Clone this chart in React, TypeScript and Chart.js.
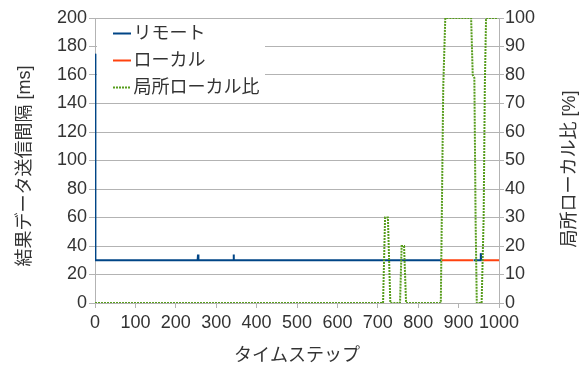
import React, { useEffect, useRef } from "react";
import { Chart, registerables } from "chart.js";

Chart.register(...registerables);

const FONT = "'Liberation Sans', 'Noto Sans CJK JP', sans-serif";

const xTitle = "タイムステップ";
const yLeftTitle = "結果データ送信間隔 [ms]";
const yRightTitle = "局所ローカル比 [%]";

const legendLabels = ["リモート", "ローカル", "局所ローカル比"];

const remoteSteps = [0, 1, 254, 255, 256, 342, 343, 344, 857, 858, 937, 954, 955, 956, 957];
const remoteMs: (number | null)[] = [175, 30, 30, 34, 30, 30, 34, 30, 30, null, 30, 30, 35, 30, 30];

const localSteps = [858, 936, 937, 958, 1000];
const localMs: (number | null)[] = [30, 30, null, 30, 30];

const ratioSteps = [0, 713, 718, 725, 731, 755, 759, 765, 770, 856, 862, 867, 931, 935, 939, 942, 945, 957, 962, 965, 968, 998];
const ratioPct = [0, 0, 30, 30, 0, 0, 20, 20, 0, 0, 76, 100, 100, 80, 79, 30, 0, 0, 30, 77, 100, 100];

const COLORS = ["#004586", "#ff420e", "#579d1c"];

function pts(xs: number[], ys: (number | null)[]) {
  return xs.map((x, i) => ({ x, y: ys[i] }));
}

const overlayPlugin = {
  id: "overlay",
  afterDraw(chart: any) {
    const ctx = chart.ctx as CanvasRenderingContext2D;
    ctx.save();
    // legend box
    ctx.fillStyle = "#ffffff";
    ctx.fillRect(97, 20, 168, 79);
    const ys = [33.5, 60.5, 87.5];
    legendLabels.forEach((label, i) => {
      ctx.beginPath();
      ctx.strokeStyle = COLORS[i];
      ctx.lineWidth = 2;
      ctx.setLineDash(i === 2 ? [2, 1] : []);
      ctx.moveTo(113, ys[i]);
      ctx.lineTo(131, ys[i]);
      ctx.stroke();
      ctx.setLineDash([]);
      ctx.fillStyle = "#333333";
      ctx.font = `18px ${FONT}`;
      ctx.textAlign = "left";
      ctx.textBaseline = "middle";
      ctx.fillText(label, 133.5, ys[i] + 1);
    });
    // titles
    ctx.fillStyle = "#333333";
    ctx.font = `18px ${FONT}`;
    ctx.textAlign = "center";
    ctx.textBaseline = "middle";
    ctx.fillText(xTitle, 297, 356);
    ctx.save();
    ctx.translate(25, 166);
    ctx.rotate(-Math.PI / 2);
    ctx.fillText(yLeftTitle, 0, 0);
    ctx.restore();
    ctx.save();
    ctx.translate(570, 169);
    ctx.rotate(-Math.PI / 2);
    ctx.fillText(yRightTitle, 0, 0);
    ctx.restore();
    ctx.restore();
  },
};

export default function App() {
  const ref = useRef<HTMLCanvasElement | null>(null);
  useEffect(() => {
    if (!ref.current) return;
    const tickFont = { family: FONT, size: 18 };
    const plain = (v: any) => String(v);
    const chart = new Chart(ref.current, {
      type: "line",
      data: {
        datasets: [
          {
            label: legendLabels[0],
            data: pts(remoteSteps, remoteMs),
            borderColor: COLORS[0],
            backgroundColor: COLORS[0],
            borderWidth: 2,
            pointRadius: 0,
            tension: 0,
            yAxisID: "y",
            order: 2,
          },
          {
            label: legendLabels[1],
            data: pts(localSteps, localMs),
            borderColor: COLORS[1],
            backgroundColor: COLORS[1],
            borderWidth: 2,
            pointRadius: 0,
            tension: 0,
            yAxisID: "y",
            order: 1,
          },
          {
            label: legendLabels[2],
            data: pts(ratioSteps, ratioPct),
            borderColor: COLORS[2],
            backgroundColor: COLORS[2],
            borderWidth: 2,
            borderDash: [2, 1],
            pointRadius: 0,
            tension: 0,
            yAxisID: "y1",
            order: 0,
          },
        ],
      },
      options: {
        animation: false,
        responsive: false,
        devicePixelRatio: 1,
        spanGaps: false,
        layout: { padding: { top: 18, left: 0, right: 0, bottom: 0 } },
        plugins: { legend: { display: false }, tooltip: { enabled: false } },
        scales: {
          x: {
            type: "linear",
            min: 0,
            max: 1000,
            ticks: { stepSize: 100, font: tickFont, color: "#333333", padding: 4, maxRotation: 0, autoSkip: false, callback: plain },
            grid: { drawOnChartArea: false, drawTicks: true, tickLength: 5, color: "#b3b3b3" },
            border: { color: "#b3b3b3" },
            afterFit: (s: any) => {
              s.height = 65;
            },
          },
          y: {
            type: "linear",
            position: "left",
            min: 0,
            max: 200,
            ticks: { stepSize: 20, font: tickFont, color: "#333333", padding: 2, callback: plain },
            grid: { color: "#b3b3b3", tickLength: 6 },
            border: { color: "#b3b3b3" },
            afterFit: (s: any) => {
              s.width = 95;
            },
          },
          y1: {
            type: "linear",
            position: "right",
            min: 0,
            max: 100,
            ticks: { stepSize: 10, font: tickFont, color: "#333333", padding: 1, callback: plain },
            grid: { drawOnChartArea: false, color: "#b3b3b3", tickLength: 5 },
            border: { color: "#b3b3b3" },
            afterFit: (s: any) => {
              s.width = 88;
            },
          },
        },
      },
      plugins: [overlayPlugin],
    });
    return () => chart.destroy();
  }, []);
  return (
    <div style={{ position: "fixed", left: 0, top: 0, width: 587, height: 368, background: "#ffffff" }}>
      <canvas ref={ref} width={587} height={368} style={{ display: "block" }} />
    </div>
  );
}
